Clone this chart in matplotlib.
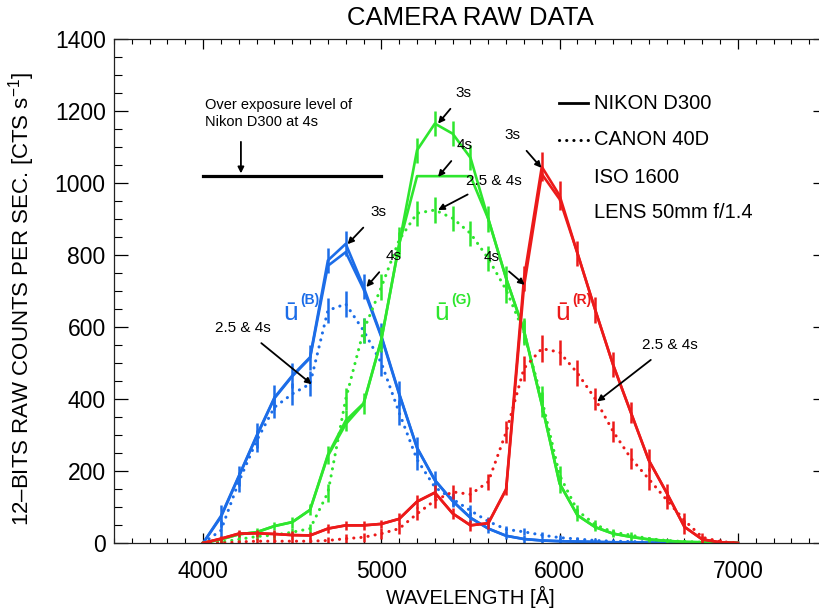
import matplotlib
matplotlib.use("Agg")
import matplotlib.pyplot as plt
from matplotlib.ticker import MultipleLocator

plt.rcParams['font.family'] = ['Liberation Sans', 'DejaVu Sans']
plt.rcParams['mathtext.fontset'] = 'custom'
plt.rcParams['mathtext.rm'] = 'Liberation Sans'
plt.rcParams['mathtext.it'] = 'Liberation Sans'

# ---------------- data ----------------
wavelength = [4000, 4100, 4200, 4300, 4400, 4500, 4600, 4700, 4800, 4900,
              5000, 5100, 5200, 5300, 5400, 5500, 5600, 5700, 5800, 5900,
              6000, 6100, 6200, 6300, 6400, 6500, 6600, 6700, 6800, 6900, 7000]

# Nikon D300 (solid), 3 s and 4 s exposures
blue_nikon_3s = [0, 75, 186, 298, 404, 465, 516, 785, 831, 712,
                 575, 415, 265, 175, 117, 70, 40, 20, 11, 7,
                 5, 4, 3, 2, 2, 1, 1, 1, 0, 0, 0]
blue_nikon_4s = [0, 72, 184, 296, 402, 463, 514, 770, 808, 705,
                 572, 413, 264, 174, 116, 70, 40, 20, 11, 7,
                 5, 4, 3, 2, 2, 1, 1, 1, 0, 0, 0]
green_nikon_3s = [0, 10, 24, 30, 47, 58, 92, 245, 340, 388,
                  565, 830, 1091, 1165, 1137, 1070, 900, 735, 590, 385,
                  165, 77, 44, 26, 17, 10, 6, 3, 2, 1, 0]
green_nikon_4s = [0, 10, 24, 30, 47, 58, 92, 242, 330, 386,
                  565, 830, 1019, 1019, 1019, 1019, 900, 735, 590, 385,
                  165, 77, 44, 26, 17, 10, 6, 3, 2, 1, 0]
red_nikon_3s = [0, 12, 26, 27, 25, 22, 21, 40, 49, 49,
                53, 67, 115, 140, 82, 49, 55, 150, 735, 1045,
                965, 805, 647, 495, 362, 230, 140, 45, 10, 2, 0]
red_nikon_4s = [0, 12, 26, 27, 25, 22, 21, 40, 49, 49,
                53, 67, 115, 140, 82, 49, 55, 148, 712, 1025,
                955, 805, 647, 495, 362, 230, 140, 45, 10, 2, 0]

# Canon 40D (dotted), 2.5 s & 4 s
blue_canon = [0, 35, 170, 284, 377, 414, 442, 646, 664, 590,
              500, 362, 232, 155, 122, 90, 60, 38, 31, 22,
              15, 11, 7, 5, 4, 3, 2, 1, 1, 0, 0]
green_canon = [0, 3, 10, 18, 22, 30, 40, 140, 400, 590,
               711, 842, 916, 925, 902, 860, 790, 703, 585, 400,
               188, 90, 51, 30, 22, 12, 7, 4, 2, 1, 0]
red_canon = [0, 0, 3, 5, 5, 5, 5, 7, 12, 16,
             26, 40, 81, 118, 142, 135, 170, 308, 485, 540,
             530, 472, 400, 310, 235, 178, 120, 63, 16, 4, 0]

# error bars (half lengths)
blue_nikon_err = [0, 30, 28, 35, 35, 35, 35, 35, 35, 35,
                  35, 35, 30, 25, 18, 15, 12, 10, 10, 8,
                  8, 6, 6, 5, 5, 4, 4, 3, 3, 2, 0]
blue_canon_err = [0, 30, 28, 30, 30, 30, 35, 35, 35, 35,
                  35, 35, 30, 25, 18, 15, 12, 10, 10, 8,
                  8, 6, 6, 5, 5, 4, 4, 3, 3, 2, 0]
green_nikon_err = [0, 8, 10, 12, 12, 15, 15, 25, 30, 30,
                   35, 35, 35, 35, 35, 35, 35, 35, 35, 35,
                   25, 15, 12, 10, 8, 6, 5, 4, 3, 2, 0]
green_canon_err = [0, 6, 8, 10, 10, 12, 12, 25, 30, 35,
                   35, 35, 35, 35, 35, 35, 35, 35, 35, 35,
                   25, 15, 12, 10, 8, 6, 5, 4, 3, 2, 0]
red_nikon_err = [0, 8, 10, 10, 10, 10, 10, 12, 12, 12,
                 12, 15, 18, 20, 15, 15, 15, 18, 35, 40,
                 40, 35, 35, 35, 30, 30, 25, 20, 10, 5, 0]
red_canon_err = [0, 5, 6, 8, 8, 8, 8, 10, 12, 12,
                 15, 15, 18, 20, 20, 20, 22, 30, 35, 37,
                 35, 35, 30, 30, 30, 30, 25, 20, 12, 6, 0]

overexposure_level = 1019
overexposure_range = [4000, 5000]

title = "CAMERA RAW DATA"
xlabel = "WAVELENGTH [Å]"
ylabel = "12\u2013BITS RAW COUNTS PER SEC. [CTS s$^{-1}$]"
xticks = [4000, 5000, 6000, 7000]
yticks = [0, 200, 400, 600, 800, 1000, 1200, 1400]

BLUE = '#1c6de8'
GREEN = '#2ee62e'
RED = '#ec1a1a'

DOT = (0, (0.05, 2.3))

# ---------------- figure ----------------
fig = plt.figure(figsize=(8.2, 6.12), dpi=100)
ax = fig.add_axes([114/820, 1-543/612, 713/820, 504/612])
ax.set_xlim(3500, 7500)
ax.set_ylim(0, 1400)

LW = 1.9
series = [
    (blue_nikon_3s, blue_nikon_4s, blue_canon, blue_nikon_err, blue_canon_err, BLUE),
    (green_nikon_3s, green_nikon_4s, green_canon, green_nikon_err, green_canon_err, GREEN),
    (red_nikon_3s, red_nikon_4s, red_canon, red_nikon_err, red_canon_err, RED),
]
for n3, n4, cn, en, ec, col in series:
    ax.plot(wavelength, cn, color=col, lw=2.2, ls=DOT, dash_capstyle='round')
    ax.errorbar(wavelength, cn, yerr=ec, fmt='none', ecolor=col, elinewidth=1.8, capsize=0)
    ax.plot(wavelength, n4, color=col, lw=LW)
    ax.plot(wavelength, n3, color=col, lw=LW)
    ax.errorbar(wavelength, n3, yerr=en, fmt='none', ecolor=col, elinewidth=1.8, capsize=0)

# over exposure level
ax.plot(overexposure_range, [overexposure_level]*2, color='black', lw=2.3)
ax.text(4011, 1193, "Over exposure level of\nNikon D300 at 4s", fontsize=10.5,
        ha='left', va='center', linespacing=1.25)
ax.annotate("", xy=(4212, overexposure_level), xytext=(4212, 1122),
            arrowprops=dict(arrowstyle='-|>', color='black', lw=1.3, mutation_scale=9))

def note(txt, xy, xytext):
    ax.annotate(txt, xy=xy, xytext=xytext, fontsize=11, ha='center', va='center',
                arrowprops=dict(arrowstyle='-|>', color='black', lw=1.3,
                                mutation_scale=9, shrinkA=6, shrinkB=0))

note("3s", (4810, 830), (4983, 920))
note("4s", (4916, 711), (5066, 797))
note("2.5 & 4s", (4609, 441), (4223, 597))
note("3s", (5318, 1165), (5463, 1251))
note("4s", (5318, 1017), (5468, 1106))
note("2.5 & 4s", (5318, 925), (5630, 1006))
note("4s", (5804, 717), (5620, 795))
note("3s", (5898, 1042), (5736, 1134))
note("2.5 & 4s", (6211, 393), (6619, 550))

def ulabel(x, y, band, col):
    ax.text(x, y, "ū", color=col, fontsize=19, ha='center', va='center')
    ax.annotate("(" + band + ")", xy=(x, y), xytext=(14, 9), textcoords='offset points',
                color=col, fontsize=10, fontweight='bold', ha='center', va='center')

ulabel(4491, 640, "B", BLUE)
ulabel(5340, 640, "G", GREEN)
ulabel(6016, 640, "R", RED)

# legend-like block
ax.plot([0.624, 0.665], [0.873, 0.873], color='black', lw=2, transform=ax.transAxes)
ax.plot([0.624, 0.665], [0.800, 0.800], color='black', lw=2.2, ls=DOT,
        dash_capstyle='round', transform=ax.transAxes)
for ty, txt in [(0.873, "NIKON D300"), (0.800, "CANON 40D"), (0.726, "ISO 1600"), (0.655, "LENS 50mm f/1.4")]:
    ax.text(0.673, ty, txt, transform=ax.transAxes, fontsize=14.5, ha='left', va='center')

# ticks
ax.set_xticks(xticks)
ax.set_yticks(yticks)
ax.xaxis.set_minor_locator(MultipleLocator(100))
ax.yaxis.set_minor_locator(MultipleLocator(50))
ax.tick_params(axis='x', which='major', direction='in', length=7.2, width=0.9,
               top=True, bottom=True, labelsize=16.5, pad=12)
ax.tick_params(axis='x', which='minor', direction='in', length=3.6, width=0.8, top=True, bottom=True)
ax.tick_params(axis='y', which='major', direction='in', length=10, width=0.9,
               left=True, right=True, labelsize=16.5, pad=6)
ax.tick_params(axis='y', which='minor', direction='in', length=6, width=0.8, left=True, right=True)
for s in ax.spines.values():
    s.set_linewidth(0.9)
    s.set_color('#222222')

fig.text(470/820, 1-18/612, title, fontsize=18.5, ha='center', va='center')
fig.text(470/820, 1-597/612, xlabel, fontsize=14.5, ha='center', va='center')
fig.text(22/820, 1-299/612, ylabel, fontsize=16, ha='center', va='center', rotation=90)

fig.savefig("out.png", dpi=100)
